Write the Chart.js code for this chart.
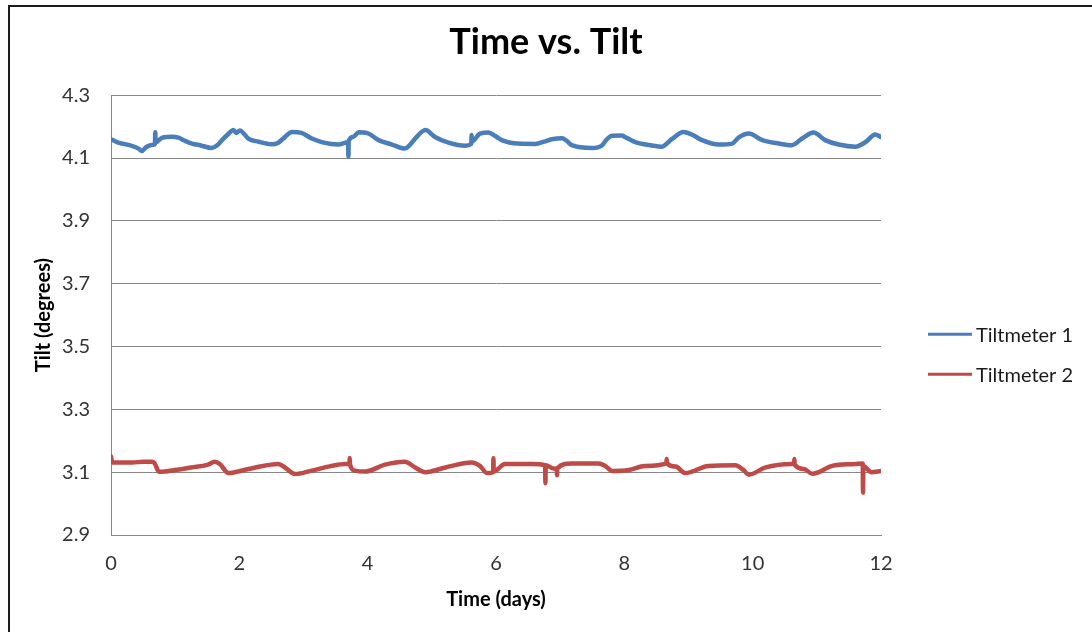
<!DOCTYPE html>
<html>
<head>
<meta charset="utf-8">
<script src="https://cdn.jsdelivr.net/npm/chart.js@4/dist/chart.umd.min.js"></script>
<style>
  html, body { margin: 0; padding: 0; background: #ffffff; }
  #wrap { position: relative; width: 1092px; height: 632px; overflow: hidden; }
  #frame {
    position: absolute; left: 8px; top: 5px; width: 1200px; height: 700px;
    border-top: 2px solid #1c1c1c; border-left: 2px solid #1c1c1c;
    pointer-events: none;
  }
  canvas { position: absolute; left: 0; top: 0; }
</style>
</head>
<body>
<div id="wrap">
  <canvas id="chart" width="1092" height="632"></canvas>
  <div id="frame"></div>
</div>
<script>
// Tiltmeter readings: elapsed time (days) and tilt (degrees)
const tiltmeter1Days = [
  0.00, 0.10, 0.20, 0.30, 0.43, 0.48, 0.55, 0.66, 0.685, 0.69, 0.695, 0.80, 0.95, 1.05, 1.15, 1.26, 1.40,
  1.57, 1.65, 1.73, 1.82, 1.91, 1.95, 2.01, 2.08, 2.14, 2.30, 2.50, 2.60, 2.70, 2.82, 2.97, 3.13,
  3.30, 3.54, 3.695, 3.70, 3.705, 3.78, 3.86, 4.01, 4.17, 4.38, 4.58, 4.65, 4.74, 4.90, 5.05, 5.26,
  5.52, 5.615, 5.62, 5.625, 5.75, 5.88, 5.99, 6.09, 6.35, 6.61, 6.75, 6.87, 7.03, 7.10, 7.18, 7.50,
  7.65, 7.72, 7.81, 7.96, 8.01, 8.17, 8.43, 8.58, 8.74, 8.92, 9.05, 9.21, 9.47, 9.68, 9.78, 9.94,
  10.15, 10.41, 10.61, 10.77, 10.95, 11.13, 11.34, 11.60, 11.76, 11.91, 12.00
];
const tiltmeter1Values = [
  4.160, 4.150, 4.145, 4.140, 4.130, 4.122, 4.135, 4.142, 4.145, 4.182, 4.150, 4.165, 4.168, 4.165, 4.155, 4.146, 4.140,
  4.132, 4.140, 4.157, 4.175, 4.189, 4.180, 4.188, 4.175, 4.162, 4.152, 4.144, 4.148, 4.165, 4.183, 4.180, 4.162,
  4.150, 4.143, 4.150, 4.104, 4.155, 4.168, 4.182, 4.178, 4.157, 4.143, 4.130, 4.140, 4.162, 4.189, 4.167, 4.149,
  4.139, 4.145, 4.173, 4.152, 4.178, 4.181, 4.170, 4.157, 4.146, 4.145, 4.152, 4.160, 4.163, 4.155, 4.141, 4.132,
  4.140, 4.158, 4.171, 4.172, 4.167, 4.151, 4.140, 4.136, 4.160, 4.183, 4.175, 4.157, 4.143, 4.146, 4.165, 4.178,
  4.157, 4.146, 4.141, 4.162, 4.181, 4.157, 4.143, 4.136, 4.151, 4.175, 4.167
];

const tiltmeter2Days = [
  0.00, 0.02, 0.33, 0.50, 0.64, 0.68, 0.75, 1.03, 1.25, 1.50, 1.62, 1.70, 1.83, 1.93, 2.25, 2.61,
  2.71, 2.87, 3.13, 3.44, 3.65, 3.715, 3.72, 3.725, 3.80, 3.96, 4.27, 4.58, 4.74, 4.90, 5.21, 5.62, 5.75,
  5.86, 5.955, 5.96, 5.965, 6.14, 6.56, 6.765, 6.77, 6.775, 6.90, 6.945, 6.95, 6.955, 7.18, 7.60, 7.70, 7.81,
  8.07, 8.32, 8.655, 8.66, 8.665, 8.80, 8.95, 9.31, 9.73, 9.85, 9.94, 10.20, 10.61, 10.645, 10.65, 10.655, 10.80,
  10.93, 11.24, 11.60, 11.715, 11.72, 11.725, 11.85, 12.00
];
const tiltmeter2Values = [
  3.150, 3.131, 3.131, 3.133, 3.133, 3.128, 3.101, 3.108, 3.115, 3.123, 3.133, 3.125, 3.097, 3.100, 3.115, 3.126,
  3.115, 3.094, 3.105, 3.120, 3.126, 3.126, 3.145, 3.124, 3.105, 3.102, 3.124, 3.133, 3.115, 3.100, 3.115, 3.131, 3.120,
  3.097, 3.100, 3.144, 3.102, 3.126, 3.126, 3.122, 3.065, 3.122, 3.112, 3.110, 3.090, 3.112, 3.128, 3.128, 3.120, 3.104,
  3.107, 3.120, 3.128, 3.142, 3.128, 3.118, 3.097, 3.120, 3.122, 3.108, 3.092, 3.115, 3.126, 3.126, 3.142, 3.124, 3.110,
  3.095, 3.120, 3.126, 3.128, 3.035, 3.120, 3.100, 3.104
];

const seriesNames = ['Tiltmeter 1', 'Tiltmeter 2'];
const seriesColors = ['#4a7ebb', '#be4b48'];

const xTickValues = [0, 2, 4, 6, 8, 10, 12];
const yTickValues = [2.9, 3.1, 3.3, 3.5, 3.7, 3.9, 4.1, 4.3];

const FONT = 'Lato, "Open Sans", sans-serif';

function toPoints(days, values) {
  return days.map((d, i) => ({ x: d, y: values[i] }));
}

function seriesDataset(i, days, values) {
  return {
    label: seriesNames[i],
    data: toPoints(days, values),
    borderColor: seriesColors[i],
    backgroundColor: seriesColors[i],
    borderWidth: 4.5,
    borderJoinStyle: 'round',
    borderCapStyle: 'round',
    pointRadius: 0,
    cubicInterpolationMode: 'monotone'
  };
}

// Series key drawn in the space to the right of the plot area
const seriesKey = {
  id: 'seriesKey',
  afterDraw(chart) {
    const { ctx, chartArea } = chart;
    const x0 = chartArea.right + 47;
    const rows = [chartArea.top + 239, chartArea.top + 279];
    ctx.save();
    chart.data.datasets.forEach((ds, i) => {
      const y = rows[i];
      ctx.strokeStyle = ds.borderColor;
      ctx.lineWidth = 3;
      ctx.beginPath();
      ctx.moveTo(x0, y);
      ctx.lineTo(x0 + 44, y);
      ctx.stroke();
      ctx.fillStyle = '#1a1a1a';
      ctx.font = '20px ' + FONT;
      ctx.textAlign = 'left';
      ctx.textBaseline = 'middle';
      ctx.fillText(ds.label, x0 + 48, y + 1);
    });
    ctx.restore();
  }
};

new Chart(document.getElementById('chart'), {
  type: 'line',
  data: {
    datasets: [
      seriesDataset(0, tiltmeter1Days, tiltmeter1Values),
      seriesDataset(1, tiltmeter2Days, tiltmeter2Values)
    ]
  },
  options: {
    responsive: false,
    animation: false,
    layout: { padding: 0 },
    plugins: {
      legend: { display: false },
      tooltip: { enabled: false },
      title: {
        display: true,
        text: 'Time vs. Tilt',
        color: '#000000',
        font: { family: FONT, size: 36, weight: 'bold' },
        padding: { top: 21, bottom: 31 }
      }
    },
    scales: {
      x: {
        type: 'linear',
        min: 0,
        max: 12,
        afterBuildTicks(scale) { scale.ticks = xTickValues.map(v => ({ value: v })); },
        afterFit(scale) { scale.height = 97; },
        grid: { display: false, drawTicks: false },
        border: { display: true, color: '#878787', width: 1 },
        ticks: {
          color: '#333333',
          padding: 17,
          font: { family: FONT, size: 20 },
          maxRotation: 0
        },
        title: {
          display: true,
          text: 'Time (days)',
          color: '#000000',
          font: { family: FONT, size: 20, weight: 'bold' },
          padding: { top: 0, bottom: 20 }
        }
      },
      y: {
        type: 'linear',
        min: 2.9,
        max: 4.3,
        afterBuildTicks(scale) { scale.ticks = yTickValues.map(v => ({ value: v })); },
        afterFit(scale) { scale.width = 111; },
        grid: { color: '#878787', lineWidth: 1, drawTicks: false },
        border: { display: true, color: '#878787', width: 1 },
        ticks: {
          color: '#333333',
          padding: 21,
          font: { family: FONT, size: 20 },
          callback: v => Number(v).toFixed(1)
        },
        title: {
          display: true,
          text: 'Tilt (degrees)',
          color: '#000000',
          font: { family: FONT, size: 20, weight: 'bold' },
          padding: { top: 32, bottom: 4 }
        }
      },
      // empty right-hand band that holds the series key
      keySpace: {
        type: 'linear',
        position: 'right',
        afterFit(scale) { scale.width = 211; },
        grid: { display: false, drawTicks: false },
        border: { display: false },
        ticks: { display: false }
      }
    }
  },
  plugins: [seriesKey]
});
</script>
</body>
</html>
